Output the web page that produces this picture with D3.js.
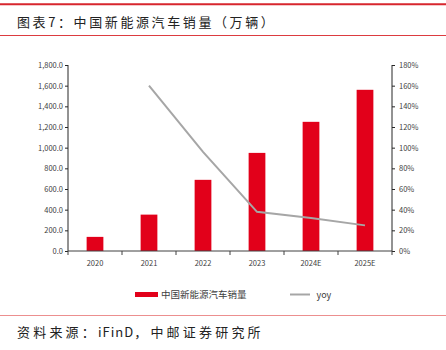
<!DOCTYPE html>
<html>
<head>
<meta charset="utf-8">
<script src="https://cdn.jsdelivr.net/npm/d3@7"></script>
<style>
  html, body { margin: 0; padding: 0; background: #fff; }
  svg { display: block; }
</style>
</head>
<body>
<div id="chart"></div>
<script>
(function () {
  'use strict';

  // data
  const years = ['2020', '2021', '2022', '2023', '2024E', '2025E'];
  const sales = [136.7, 352.1, 688.7, 949.5, 1250, 1560];      // 万辆
  const yoy = [null, 1.6, 0.96, 0.379, 0.32, 0.248];
  const leftTicks = [0, 200, 400, 600, 800, 1000, 1200, 1400, 1600, 1800];
  const rightTicks = [0, 0.2, 0.4, 0.6, 0.8, 1.0, 1.2, 1.4, 1.6, 1.8];

  const W = 446, H = 350;
  const margin = { top: 65, right: 54, bottom: 99, left: 68 };
  const innerW = W - margin.left - margin.right;
  const innerH = H - margin.top - margin.bottom;
  const FONT = "'Noto Sans CJK SC', 'Noto Sans', sans-serif";
  const RED = '#e2001a';

  const svg = d3.select('#chart').append('svg').attr('width', W).attr('height', H);

  // header / footer rules
  svg.append('line').attr('x1', 0).attr('x2', W).attr('y1', 4.3).attr('y2', 4.3)
    .attr('stroke', '#d7262e').attr('stroke-width', 2);
  svg.append('line').attr('x1', 0).attr('x2', W).attr('y1', 35.5).attr('y2', 35.5)
    .attr('stroke', '#dc3b40').attr('stroke-width', 1);
  svg.append('line').attr('x1', 0).attr('x2', W).attr('y1', 315.5).attr('y2', 315.5)
    .attr('stroke', '#ec8f8f').attr('stroke-width', 1);

  svg.append('text').attr('x', 17).attr('y', 27)
    .style('font-family', FONT).style('font-size', '13px').style('letter-spacing', '2.6px')
    .style('fill', '#222').text('图表7：中国新能源汽车销量（万辆）');

  // source line: CJK spaced out, Latin kept tight
  const src = svg.append('text').attr('x', 17).attr('y', 337)
    .style('font-family', FONT).style('font-size', '13px').style('fill', '#222');
  src.append('tspan').style('letter-spacing', '3.2px').text('资料来源：');
  src.append('tspan').style('letter-spacing', '1px').text('iFinD');
  src.append('tspan').style('letter-spacing', '3.2px').text('，中邮证券研究所');

  const g = svg.append('g').attr('transform', `translate(${margin.left},${margin.top})`);

  const x = d3.scaleBand().domain(years).range([0, innerW]).paddingInner(0.69).paddingOuter(0.345);
  const yL = d3.scaleLinear().domain([0, 1800]).range([innerH, 0]);
  const yR = d3.scaleLinear().domain([0, 1.8]).range([innerH, 0]);

  // bars
  g.selectAll('.bar').data(sales).enter().append('rect')
    .attr('x', (d, i) => x(years[i])).attr('width', x.bandwidth())
    .attr('y', d => yL(d)).attr('height', d => innerH - yL(d))
    .attr('fill', RED);

  // yoy line
  const pts = yoy.map((v, i) => ({ k: years[i], v })).filter(d => d.v != null);
  const line = d3.line().x(d => x(d.k) + x.bandwidth() / 2).y(d => yR(d.v));
  g.append('path').datum(pts).attr('fill', 'none').attr('stroke', '#a6a6a6')
    .attr('stroke-width', 2).attr('d', line);

  // axes
  const axL = g.append('g').call(d3.axisLeft(yL).tickValues(leftTicks).tickSize(3).tickFormat(d3.format(',.1f')));
  const axR = g.append('g').attr('transform', `translate(${innerW},0)`)
    .call(d3.axisRight(yR).tickValues(rightTicks).tickSize(3).tickFormat(d3.format('.0%')));
  [axL, axR].forEach(a => {
    a.select('.domain').attr('stroke', '#262626').attr('d', `M0,0V${innerH}`);
    a.selectAll('line').attr('stroke', '#262626');
    a.selectAll('text').style('font-family', FONT).style('font-size', '7.5px').style('fill', '#404040');
  });
  axL.selectAll('text').attr('x', -5);
  axR.selectAll('text').attr('x', 7);

  // x axis with ticks at band boundaries
  const xa = g.append('g').attr('transform', `translate(0,${innerH})`);
  xa.append('line').attr('x1', 0).attr('x2', innerW).attr('stroke', '#404040');
  xa.selectAll('.tk').data(d3.range(years.length + 1)).enter().append('line')
    .attr('x1', i => i * x.step()).attr('x2', i => i * x.step())
    .attr('y1', 0).attr('y2', 4).attr('stroke', '#404040');
  xa.selectAll('.lb').data(years).enter().append('text')
    .attr('x', d => x(d) + x.bandwidth() / 2).attr('y', 15)
    .attr('text-anchor', 'middle')
    .style('font-family', FONT).style('font-size', '7.5px').style('fill', '#404040')
    .text(d => d);

  // legend
  const lg = svg.append('g').attr('transform', 'translate(0,294.5)');
  lg.append('rect').attr('x', 135).attr('y', -2.5).attr('width', 23).attr('height', 5).attr('fill', RED);
  lg.append('text').attr('x', 161).attr('y', 3.5)
    .style('font-family', FONT).style('font-size', '9.5px').style('fill', '#404040')
    .text('中国新能源汽车销量');
  lg.append('line').attr('x1', 290).attr('x2', 310).attr('stroke', '#a6a6a6').attr('stroke-width', 2);
  lg.append('text').attr('x', 316.5).attr('y', 3)
    .style('font-family', FONT).style('font-size', '9px').style('fill', '#404040')
    .text('yoy');
})();
</script>
</body>
</html>
